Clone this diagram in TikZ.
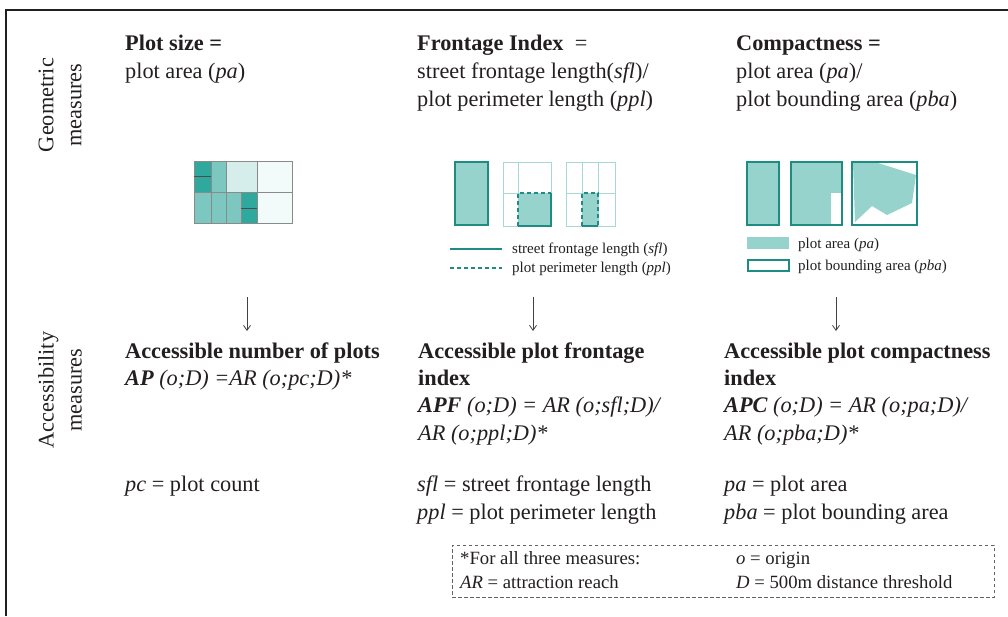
\documentclass[tikz,border=0pt]{standalone}
\usepackage{fontspec}
\setmainfont{Liberation Serif}
\usetikzlibrary{arrows.meta}
\definecolor{ink}{HTML}{231F20}
\definecolor{tealdark}{HTML}{1E8C82}
\definecolor{tealfill}{HTML}{96D3CD}
\definecolor{tealgrid}{HTML}{A8D8D4}
\definecolor{psdark}{HTML}{2FA89E}
\definecolor{psmed}{HTML}{7CC7C0}
\definecolor{pslight}{HTML}{D5EDEB}
\definecolor{pspale}{HTML}{F3FAFA}
\definecolor{psgrid}{HTML}{8A8A8A}
\tikzset{
  txt/.style={anchor=base west, inner sep=0pt, text=ink, font=\fontsize{22.3}{27.5}\selectfont},
  leg/.style={anchor=base west, inner sep=0pt, text=ink, font=\fontsize{15}{18}\selectfont},
  boxtxt/.style={anchor=base west, inner sep=0pt, text=ink, font=\fontsize{18.7}{22}\selectfont},
  side/.style={rotate=90, align=center, inner sep=0pt, text=ink, font=\fontsize{22.3}{28}\selectfont},
  downarrow/.style={draw=ink!85, line width=0.8pt, -{Straight Barb[length=5pt,width=7pt]}},
  plotbox/.style={draw=tealdark, line width=2.4pt},
  gridline/.style={draw=tealgrid, line width=1pt},
  frontsolid/.style={draw=tealdark, line width=2.4pt},
  frontdash/.style={draw=tealdark, line width=2.2pt, dash pattern=on 4pt off 3pt},
}
\begin{document}
\begin{tikzpicture}[x=1pt,y=-1pt]
\useasboundingbox (0,0) rectangle (1008,616);
% frame
\draw[ink, line width=1.6pt] (6,616) -- (6,10) -- (1008,10);
% side labels
\node[side] (geo) at (60,105) {Geometric\\measures};
\node[side] (acc) at (60,390) {Accessibility\\measures};
% ---- top texts
\node[txt] (ps1) at (125,50) {\textbf{Plot size =}};
\node[txt] (ps2) at (125,78) {plot area (\textit{pa})};
\node[txt] (fi1) at (417,50) {\textbf{Frontage Index}\ \ =};
\node[txt] (fi2) at (417,78) {street frontage length(\textit{sfl})/};
\node[txt] (fi3) at (417,106) {plot perimeter length (\textit{ppl})};
\node[txt] (co1) at (736,50) {\textbf{Compactness =}};
\node[txt] (co2) at (736,78) {plot area (\textit{pa})/};
\node[txt] (co3) at (736,106) {plot bounding area (\textit{pba})};
% ---- plot size graphic
\fill[psdark] (194,161) rectangle (211,192);
\fill[psmed] (211,161) rectangle (226,192);
\fill[pslight] (226,161) rectangle (257,192);
\fill[pspale] (257,161) rectangle (292,223);
\fill[psmed] (194,192) rectangle (241,223);
\fill[psdark] (241,192) rectangle (257,223);
\draw[psgrid, line width=1pt] (194,161) rectangle (292,223);
\draw[psgrid, line width=1pt] (194,192) -- (292,192);
\draw[psgrid, line width=1pt] (211,161) -- (211,223) (226,161) -- (226,223) (257,161) -- (257,223) (241,192) -- (241,223);
\draw[ink!80, line width=1pt] (194,176) -- (211,176) (241,208) -- (257,208);
% ---- frontage graphics
\filldraw[fill=tealfill, plotbox] (455,162) rectangle (488,225);
\draw[gridline] (503,162) rectangle (551,226) (518,162) -- (518,226) (503,193) -- (551,193);
\fill[tealfill] (518,193) rectangle (551,226);
\draw[frontdash] (518,226) -- (518,193) -- (551,193);
\draw[frontsolid] (551,193) -- (551,226) -- (518,226);
\draw[gridline] (566,162) rectangle (615,226) (582,162) -- (582,226) (598,162) -- (598,226) (566,193) -- (615,193);
\fill[tealfill] (582,193) rectangle (598,226);
\draw[frontdash] (582,226) -- (582,193) -- (598,193) -- (598,226);
\draw[frontsolid] (582,226) -- (598,226);
% frontage legend
\coordinate (fl1a) at (450,249); \coordinate (fl1b) at (502,249);
\coordinate (fl2a) at (450,268); \coordinate (fl2b) at (502,268);
\draw[frontsolid] (fl1a) -- (fl1b);
\draw[frontdash] (fl2a) -- (fl2b);
\node[leg] (fleg1) at (512,253) {street frontage length (\textit{sfl})};
\node[leg] (fleg2) at (512,272) {plot perimeter length (\textit{ppl})};
% ---- compactness graphics
\filldraw[fill=tealfill, plotbox] (747,162) rectangle (779,225);
\fill[tealfill] (791,162) rectangle (842,225);
\fill[white] (831,193) rectangle (842,225);
\draw[plotbox] (791,162) rectangle (842,225);
\fill[tealfill] (853,163) -- (878,163) -- (916,175) -- (912,203) -- (887,215) -- (872,206) -- (855,222) -- cycle;
\draw[plotbox] (852,162) rectangle (917,225);
% compactness legend
\fill[tealfill] (747,237) rectangle (789,249);
\draw[draw=tealdark, line width=2pt] (748,260) rectangle (789,271);
\node[leg] (cleg1) at (798,248) {plot area (\textit{pa})};
\node[leg] (cleg2) at (798,270) {plot bounding area (\textit{pba})};
% ---- arrows
\coordinate (a1s) at (247,297); \coordinate (a1e) at (247,331);
\coordinate (a2s) at (533,297); \coordinate (a2e) at (533,331);
\coordinate (a3s) at (836,297); \coordinate (a3e) at (836,331);
\draw[downarrow] (a1s) -- (a1e);
\draw[downarrow] (a2s) -- (a2e);
\draw[downarrow] (a3s) -- (a3e);
% ---- accessibility texts
\node[txt] (ap1) at (125,358) {\textbf{Accessible number of plots}};
\node[txt] (ap2) at (125,385) {\textit{\textbf{AP} (o;D) =AR (o;pc;D)*}};
\node[txt] (af1) at (418,358) {\textbf{Accessible plot frontage}};
\node[txt] (af2) at (418,385) {\textbf{index}};
\node[txt] (af3) at (418,412) {\textit{\textbf{APF} (o;D) = AR (o;sfl;D)/}};
\node[txt] (af4) at (418,440) {\textit{AR (o;ppl;D)*}};
\node[txt] (ac1) at (724,358) {\textbf{Accessible plot compactness}};
\node[txt] (ac2) at (724,385) {\textbf{index}};
\node[txt] (ac3) at (724,412) {\textit{\textbf{APC} (o;D) = AR (o;pa;D)/}};
\node[txt] (ac4) at (724,440) {\textit{AR (o;pba;D)*}};
% ---- definitions
\node[txt] (d1) at (125,491) {\textit{pc} = plot count};
\node[txt] (d2) at (417,491) {\textit{sfl} = street frontage length};
\node[txt] (d3) at (417,519) {\textit{ppl} = plot perimeter length};
\node[txt] (d4) at (724,491) {\textit{pa} = plot area};
\node[txt] (d5) at (724,519) {\textit{pba} = plot bounding area};
% ---- footnote box
\node[draw=ink!70, line width=0.9pt, dash pattern=on 3.5pt off 2.5pt, minimum width=542pt, minimum height=52pt, anchor=north west, inner sep=0pt] (box) at (452,545) {};
\node[boxtxt] (b1) at (460,564) {*For all three measures:};
\node[boxtxt] (b2) at (460,588) {\textit{AR} = attraction reach};
\node[boxtxt] (b3) at (736,564) {\textit{o} = origin};
\node[boxtxt] (b4) at (736,588) {\textit{D} = 500m distance threshold};
\end{tikzpicture}
\end{document}
